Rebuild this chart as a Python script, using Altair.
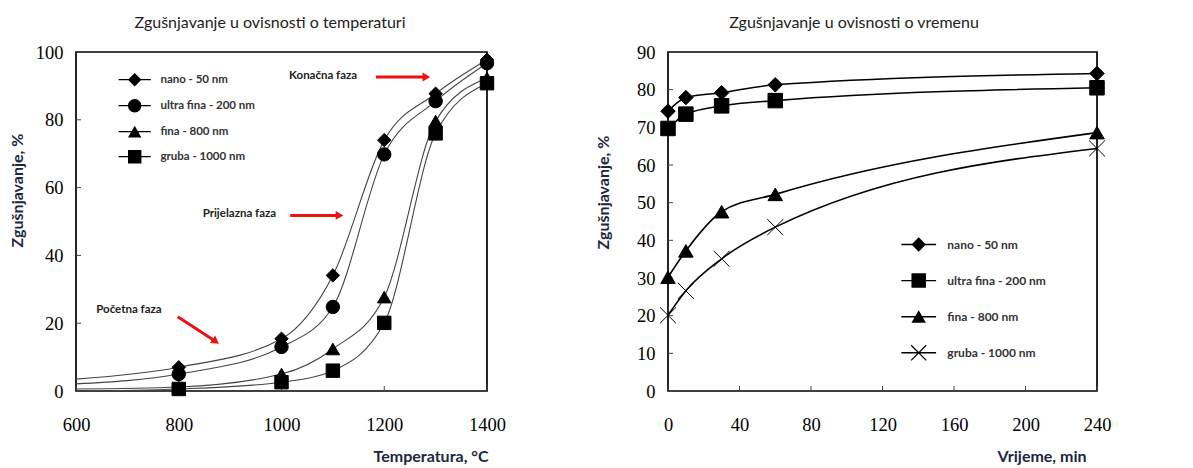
import altair as alt
import pandas as pd

series = ["nano - 50 nm", "ultra fina - 200 nm", "fina - 800 nm", "gruba - 1000 nm"]

# Left panel: densification vs temperature
temp_c = [600, 800, 1000, 1100, 1200, 1300, 1400]
temp_nano = [3.5, 7.0, 15.4, 34.1, 74.0, 87.7, 97.7]
temp_ultra = [2.1, 5.0, 13.0, 24.8, 69.8, 85.5, 96.7]
temp_fina = [0.6, 1.2, 5.0, 12.4, 27.7, 79.6, 92.3]
temp_gruba = [0.0, 0.6, 2.6, 6.0, 20.1, 76.0, 90.8]
temp_marked = [False, True, True, True, True, True, True]
temp_xticks = [600, 800, 1000, 1200, 1400]
temp_yticks = [0, 20, 40, 60, 80, 100]

# Right panel: densification vs time
time_min = [0, 10, 30, 60, 240]
time_nano = [74.3, 77.9, 79.2, 81.3, 84.3]
time_ultra = [69.7, 73.5, 75.7, 77.1, 80.5]
time_fina = [30.2, 37.2, 47.6, 52.2, 68.6]
time_gruba = [20.1, 26.6, 35.1, 43.5, 64.4]
time_xticks = [0, 40, 80, 120, 160, 200, 240]
time_yticks = [0, 10, 20, 30, 40, 50, 60, 70, 80, 90]

# Annotations (left panel)
ann_labels = ["Konačna faza", "Prijelazna faza", "Početna faza"]
ann_x = [1081, 918, 703]
ann_y = [92.8, 52.1, 24.0]
arrow_x1 = [1184, 1017, 798]
arrow_y1 = [92.6, 51.8, 21.9]
arrow_x2 = [1282, 1113, 872]
arrow_y2 = [92.6, 51.8, 14.6]
arrow_angle = [0, 0, 35]

# marker shapes (unit-square SVG paths)
X_PATH = "M-1.1,-1.1L1.1,1.1M-1.1,1.1L1.1,-1.1"
LINE = " M-2.4,-0.1H2.4V0.1H-2.4Z"
LG_DIAMOND = "M-1,0L0,-1L1,0L0,1Z" + LINE
LG_CIRCLE = "M-1,0A1,1,0,1,1,1,0A1,1,0,1,1,-1,0Z" + LINE
LG_TRI = "M0,-0.9L1,0.85L-1,0.85Z" + LINE
LG_SQUARE = "M-1,-1H1V1H-1Z" + LINE
LG_X = ("M-1.1,-0.98L-0.98,-1.1L1.1,0.98L0.98,1.1Z "
        "M-1.1,0.98L0.98,-1.1L1.1,-0.98L-0.98,1.1Z" + LINE)

AX_TITLE_COLOR = "#1c2541"
SERIF = "Liberation Serif"


def long_df(xs, cols, marked=None):
    rows = []
    for s, vals in zip(series, cols):
        for i, (xv, yv) in enumerate(zip(xs, vals)):
            rows.append({"x": xv, "y": yv, "series": s,
                         "marked": True if marked is None else marked[i]})
    return pd.DataFrame(rows)


def panel(df, title, title_dx, xdom, xticks, ydom, yticks, w, h, xtitle, ytitle,
          xtitle_x, ytitle_x, ytitle_y, shapes, legend_shapes, line_color, line_w,
          size, leg_x, leg_y, leg_row, leg_off, leg_fs, extra=None):
    xs = alt.Scale(domain=xdom, nice=False, zero=False)
    ys = alt.Scale(domain=ydom, nice=False, zero=False)
    xax = alt.Axis(values=xticks, grid=False, domain=False, ticks=False,
                   labelFont=SERIF, labelFontSize=18.5, labelColor="black",
                   labelPadding=24, labelFlush=False, format="d",
                   title=xtitle, titleFont="Lato", titleFontSize=16, titleFontWeight="bold",
                   titleColor=AX_TITLE_COLOR, titleAlign="right", titleX=xtitle_x,
                   titlePadding=15)
    yax = alt.Axis(values=yticks, grid=False, domain=False, ticks=False,
                   labelFont=SERIF, labelFontSize=18.5, labelColor="black",
                   labelPadding=13, labelFlush=False, format="d",
                   title=ytitle, titleFont="Lato", titleFontSize=16, titleFontWeight="bold",
                   titleColor=AX_TITLE_COLOR, titleX=ytitle_x, titleY=ytitle_y,
                   titleAlign="center")
    X = alt.X("x:Q", scale=xs, axis=xax)
    Y = alt.Y("y:Q", scale=ys, axis=yax)

    lines = alt.Chart(df).mark_line(interpolate="monotone", color=line_color,
                                    strokeWidth=line_w).encode(x=X, y=Y, detail="series:N")
    pts = alt.Chart(df).transform_filter(alt.datum.marked).mark_point(
        filled=True, size=size, color="black", stroke="black", strokeWidth=1, opacity=1
    ).encode(x=X, y=Y, shape=alt.Shape("series:N", scale=alt.Scale(domain=series, range=shapes),
                                       legend=None))
    leg = alt.Chart(df).transform_filter("false").mark_point(
        filled=True, color="black", size=size, opacity=1
    ).encode(x=X, y=Y, shape=alt.Shape(
        "series:N", scale=alt.Scale(domain=series, range=legend_shapes),
        legend=alt.Legend(title=None, orient="none", legendX=leg_x, legendY=leg_y,
                          direction="vertical", labelFont="Lato", labelFontSize=leg_fs,
                          labelFontWeight="bold", labelColor="#333", symbolSize=size,
                          symbolFillColor="black", rowPadding=leg_row, labelOffset=leg_off,
                          padding=0, symbolOffset=0)))
    yt = alt.Chart(pd.DataFrame({"y": yticks})).mark_rule(color="#444", strokeWidth=1).encode(
        y=Y, x=alt.value(0), x2=alt.value(5))
    xt = alt.Chart(pd.DataFrame({"x": xticks})).mark_rule(color="#444", strokeWidth=1).encode(
        x=X, y=alt.value(h), y2=alt.value(h - 5))
    layers = [yt, xt, lines, pts, leg]
    if extra is not None:
        layers += extra(X, Y, xs, xax)
    return alt.layer(*layers).resolve_scale(shape="independent").properties(
        width=w, height=h,
        title=alt.TitleParams(title, font="Lato", fontSize=16, fontWeight="normal",
                              color="#222", frame="group", dx=title_dx, offset=12))


def annotations(X, Y, xs, xax):
    adf = pd.DataFrame({"x": ann_x, "y": ann_y, "label": ann_labels})
    rdf = pd.DataFrame({"x": arrow_x1, "y": arrow_y1, "x2": arrow_x2, "y2": arrow_y2,
                        "angle": arrow_angle})
    txt = alt.Chart(adf).mark_text(font="Lato", fontSize=11.5, fontWeight="bold",
                                   color="#222").encode(x=X, y=Y, text="label:N")
    rules = alt.Chart(rdf).mark_rule(color="#ee1111", strokeWidth=3).encode(
        x=X, y=Y, x2="x2:Q", y2="y2:Q")
    heads = alt.Chart(rdf).mark_point(shape="triangle-right", filled=True, color="#ee1111",
                                      size=80, opacity=1).encode(
        x=alt.X("x2:Q", scale=xs, axis=xax),
        y=alt.Y("y2:Q", scale=alt.Scale(domain=[0, 100], nice=False, zero=False)),
        angle=alt.Angle("angle:Q", scale=None))
    return [rules, heads, txt]


left_df = long_df(temp_c, [temp_nano, temp_ultra, temp_fina, temp_gruba], temp_marked)
right_df = long_df(time_min, [time_nano, time_ultra, time_fina, time_gruba])

left = panel(left_df, "Zgušnjavanje u ovisnosti o temperaturi", -11.5,
             [600, 1400], temp_xticks, [0, 100], temp_yticks, 411, 339,
             "Temperatura, °C", "Zgušnjavanje, %", 412, -51, 138,
             ["diamond", "circle", "triangle-up", "square"],
             [LG_DIAMOND, LG_CIRCLE, LG_TRI, LG_SQUARE], "#444", 1.1, 180,
             51.7, 20.7, 12.0, 18.7, 11.5, extra=annotations)

right = panel(right_df, "Zgušnjavanje u ovisnosti o vremenu", -28.5,
              [0, 240], time_xticks, [0, 90], time_yticks, 429, 339,
              "Vrijeme, min", "Zgušnjavanje, %", 418, -57, 140,
              ["diamond", "square", "triangle-up", X_PATH],
              [LG_DIAMOND, LG_SQUARE, LG_TRI, LG_X], "black", 1.6, 210,
              243.2, 185, 21.1, 21.1, 12)

chart = alt.hconcat(left, right, spacing=87).properties(
    padding={"left": 0, "top": 6, "right": 0, "bottom": 0}
).configure_view(stroke="black", strokeWidth=1.7).configure_axis(
    labelFont=SERIF
).configure_legend(symbolStrokeWidth=0)

chart.save("out.html", embed_options={"renderer": "svg", "actions": False})
